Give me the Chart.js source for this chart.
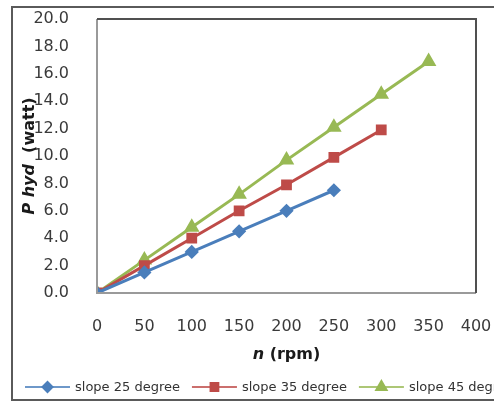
<!DOCTYPE html>
<html>
<head>
<meta charset="utf-8">
<script src="https://cdn.jsdelivr.net/npm/chart.js@4.4.1/dist/chart.umd.min.js"></script>
<style>
  html, body { margin: 0; padding: 0; background: #fff; overflow: hidden; }
  #wrap { position: relative; width: 494px; height: 407px; }
  #frame { position: absolute; left: 11px; top: 6px; width: 600px; height: 395px; border: 2px solid #5a5a5a; box-sizing: border-box; }
  canvas { position: absolute; left: 0; top: 0; }
</style>
</head>
<body>
<div id="wrap">
  <div id="frame"></div>
  <canvas id="c" width="494" height="407"></canvas>
</div>
<script>
const rpm25 = [0, 50, 100, 150, 200, 250];
const slope25 = [0, 1.5, 3.0, 4.5, 6.0, 7.5];
const rpm35 = [0, 50, 100, 150, 200, 250, 300];
const slope35 = [0, 2.0, 4.0, 6.0, 7.9, 9.9, 11.9];
const rpm45 = [0, 50, 100, 150, 200, 250, 300, 350];
const slope45 = [0, 2.4, 4.8, 7.2, 9.7, 12.1, 14.5, 16.9];
const seriesLabels = ['slope 25 degree', 'slope 35 degree', 'slope 45 degree'];
const xTitle = ['n', ' (rpm)'];
const yTitle = ['P hyd', '  (watt)'];

function pts(xs, ys) { return xs.map((x, i) => ({ x: x, y: ys[i] })); }

const colors = ['#4a7ebb', '#be4b48', '#98b954'];
const styles = ['rectRot', 'rect', 'triangle'];
const radii = [5, 5.5, 6];

const FONT = '"DejaVu Sans", sans-serif';

const framePlugin = {
  id: 'frame',
  afterDatasetsDraw(chart) {
    const { ctx, chartArea: a } = chart;
    ctx.save();
    ctx.lineWidth = 2;
    ctx.strokeStyle = '#9a9a9a';
    ctx.beginPath();
    ctx.moveTo(a.left, a.top); ctx.lineTo(a.left, a.bottom); ctx.lineTo(a.right, a.bottom);
    ctx.stroke();
    ctx.strokeStyle = '#505050';
    ctx.beginPath();
    ctx.moveTo(a.left, a.top); ctx.lineTo(a.right, a.top); ctx.lineTo(a.right, a.bottom);
    ctx.stroke();
    ctx.restore();
  }
};

const titlePlugin = {
  id: 'titles',
  afterDraw(chart) {
    const { ctx, chartArea: a } = chart;
    ctx.save();
    ctx.fillStyle = '#1a1a1a';
    ctx.textBaseline = 'middle';
    const f1 = 'italic bold 16px ' + FONT, f2 = 'bold 16px ' + FONT;
    ctx.font = f1; const w1 = ctx.measureText(xTitle[0]).width;
    ctx.font = f2; const w2 = ctx.measureText(xTitle[1]).width;
    let x = (a.left + a.right) / 2 - (w1 + w2) / 2;
    const y = 355;
    ctx.textAlign = 'left';
    ctx.font = f1; ctx.fillText(xTitle[0], x, y);
    ctx.font = f2; ctx.fillText(xTitle[1], x + w1, y);
    ctx.font = f1; const v1 = ctx.measureText(yTitle[0]).width;
    ctx.font = f2; const v2 = ctx.measureText(yTitle[1]).width;
    ctx.translate(30, (a.top + a.bottom) / 2);
    ctx.rotate(-Math.PI / 2);
    const s = -(v1 + v2) / 2;
    ctx.font = f1; ctx.fillText(yTitle[0], s, 0);
    ctx.font = f2; ctx.fillText(yTitle[1], s + v1, 0);
    ctx.restore();
  }
};

const legendPlugin = {
  id: 'lineLegend',
  afterDraw(chart) {
    const { ctx } = chart;
    ctx.save();
    ctx.font = '13px ' + FONT;
    ctx.textBaseline = 'middle';
    ctx.textAlign = 'left';
    let x = 25;
    const y = 387;
    chart.data.datasets.forEach((ds) => {
      ctx.strokeStyle = ds.borderColor;
      ctx.globalAlpha = 0.8;
      ctx.lineWidth = 2;
      ctx.beginPath(); ctx.moveTo(x, y); ctx.lineTo(x + 45, y); ctx.stroke();
      ctx.globalAlpha = 1;
      ctx.fillStyle = ds.pointBackgroundColor;
      ctx.strokeStyle = ds.pointBorderColor;
      Chart.helpers.drawPoint(ctx, { pointStyle: ds.pointStyle, radius: ds.pointRadius, rotation: 0, borderWidth: 1 }, x + 22.5, y);
      ctx.fillStyle = '#333';
      ctx.fillText(ds.label, x + 50, y + 1);
      x += 50 + ctx.measureText(ds.label).width + 12;
    });
    ctx.restore();
  }
};

const datasets = [pts(rpm25, slope25), pts(rpm35, slope35), pts(rpm45, slope45)].map((d, i) => ({
  label: seriesLabels[i],
  data: d,
  borderColor: colors[i],
  backgroundColor: colors[i],
  pointBackgroundColor: colors[i],
  pointBorderColor: colors[i],
  pointStyle: styles[i],
  pointRadius: radii[i],
  pointHoverRadius: radii[i],
  borderWidth: 3,
  tension: 0,
  fill: false
}));

function noPad(s) { s.paddingTop = 0; s.paddingBottom = 0; s.paddingLeft = 0; s.paddingRight = 0; }

new Chart(document.getElementById('c'), {
  type: 'line',
  data: { datasets: datasets },
  options: {
    responsive: false,
    animation: false,
    events: [],
    layout: { padding: { left: 0, top: 19, right: 18, bottom: 0 } },
    plugins: { legend: { display: false }, tooltip: { enabled: false } },
    scales: {
      x: {
        type: 'linear', min: 0, max: 400,
        grid: { display: false }, border: { display: false },
        ticks: { stepSize: 50, padding: 16, color: '#3a3a3a', font: { family: FONT, size: 16 } },
        afterFit(s) { s.height = 114; noPad(s); }
      },
      y: {
        min: 0, max: 20,
        grid: { display: false }, border: { display: false },
        ticks: { stepSize: 2, padding: 20, color: '#3a3a3a', font: { family: FONT, size: 16 },
          callback: (v) => Number(v).toFixed(1) },
        afterFit(s) { s.width = 97; noPad(s); }
      }
    }
  },
  plugins: [framePlugin, titlePlugin, legendPlugin]
});
</script>
</body>
</html>
